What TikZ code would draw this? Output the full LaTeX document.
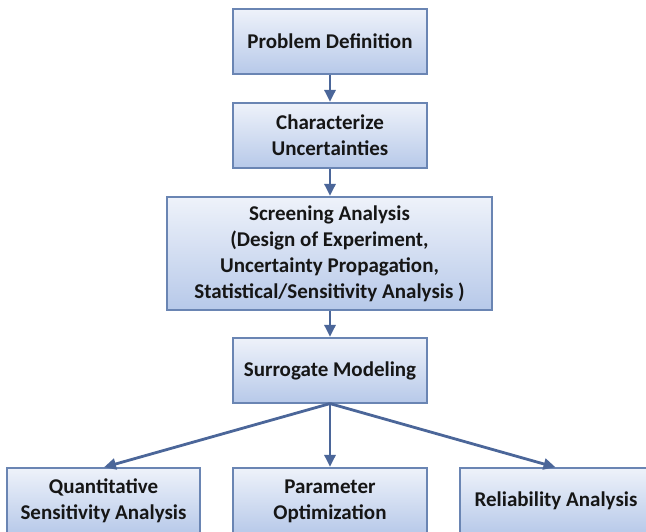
\documentclass[tikz,border=0pt]{standalone}
\usepackage{fontspec}
\setmainfont{Carlito}
\usetikzlibrary{arrows.meta}
\definecolor{boxedge}{HTML}{6A85B3}
\definecolor{boxtop}{HTML}{EEF2FA}
\definecolor{boxbottom}{HTML}{B7C9E9}
\definecolor{flow}{HTML}{4B6699}
\definecolor{ink}{HTML}{161616}
\tikzset{
  x=1pt, y=-1pt,
  stage/.style={draw=boxedge, line width=1.2pt, top color=boxtop, bottom color=boxbottom,
    text=ink, align=center, inner sep=0pt,
    font=\fontsize{21}{26}\selectfont\bfseries},
  flowarrow/.style={draw=flow, line width=2.8pt,
    -{Triangle[width=11pt,length=12pt]}, shorten >=0.5pt}
}
\begin{document}
\begin{tikzpicture}
\useasboundingbox (0,0) rectangle (646,532);
\begin{scope}
\clip (0,0) rectangle (646,532);
\node[stage, minimum width=194pt, minimum height=65pt] (def) at (330,41.5) {Problem Definition};
\node[stage, minimum width=194pt, minimum height=65pt] (unc) at (330,135.5) {Characterize\\Uncertainties};
\node[stage, minimum width=325pt, minimum height=113pt] (scr) at (329.5,253.5)
  {Screening Analysis\\(Design of Experiment,\\Uncertainty Propagation,\\Statistical/Sensitivity Analysis )};
\node[stage, minimum width=194pt, minimum height=65pt] (sur) at (330,370.5) {Surrogate Modeling};
\node[stage, minimum width=193pt, minimum height=66pt] (qsa) at (103.5,501) {Quantitative\\Sensitivity Analysis};
\node[stage, minimum width=194pt, minimum height=66pt] (opt) at (330,501) {Parameter\\Optimization};
\node[stage, minimum width=192pt, minimum height=66pt] (rel) at (556,501) {Reliability Analysis};

\draw[flowarrow] (def.south) -- (unc.north);
\draw[flowarrow] (unc.south) -- (scr.north -| unc.south);
\draw[flowarrow] (scr.south -| sur.north) -- (sur.north);
\draw[flowarrow] (sur.south) -- (qsa.north);
\draw[flowarrow] (sur.south) -- (opt.north);
\draw[flowarrow] (sur.south) -- (rel.north);
\end{scope}
\end{tikzpicture}
\end{document}
